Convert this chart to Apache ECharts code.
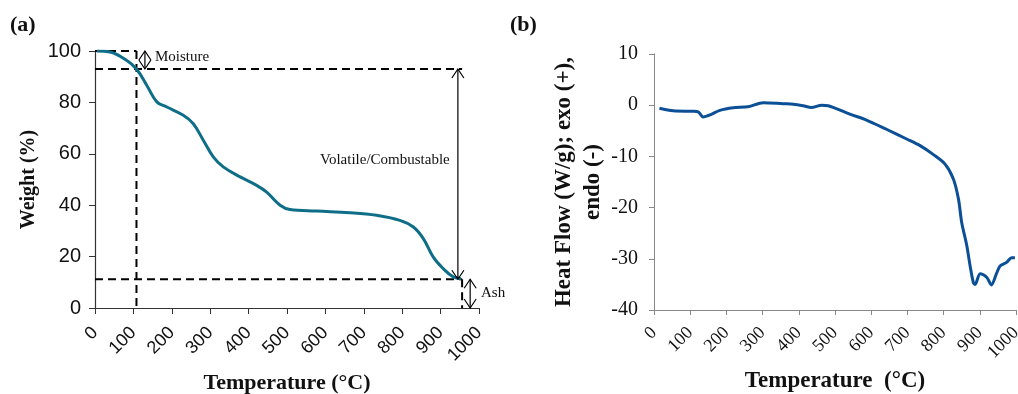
<!DOCTYPE html>
<html>
<head>
<meta charset="utf-8">
<script src="https://cdn.jsdelivr.net/npm/echarts@6/dist/echarts.min.js"></script>
<style>
  html, body { margin: 0; padding: 0; background: #fff; }
  #chart { width: 1018px; height: 394px; }
</style>
</head>
<body>
<div id="chart"></div>
<script>
// TGA (a) weight loss curve: [temperature, weight %]
var tgaData = [
  [5, 100], [39, 99.6], [82, 96.4], [108, 93], [135, 86.6], [161, 80.2], [187, 78.2],
  [230, 75], [256, 71.7], [282, 65.3], [308, 58.8], [334, 54.9], [378, 51], [421, 47.7],
  [447, 45.1], [482, 40], [508, 38.3], [577, 37.7], [664, 37.1], [733, 36.1], [794, 34.1],
  [829, 31.5], [855, 27], [881, 19.8], [907, 15.3], [933, 12.1], [953, 11.4]
];
// DSC (b) heat flow: [temperature, W/g]
var dscData = [
  [15, -0.6], [53, -1.1], [109, -1.2], [122, -1.3], [136, -2.3], [155, -1.9], [182, -1.0],
  [219, -0.5], [260, -0.3], [302, 0.5], [357, 0.3], [385, 0.2], [412, -0.1], [435, -0.45],
  [463, 0], [481, -0.1], [541, -1.75], [587, -2.9], [642, -4.7], [698, -6.6], [735, -7.9],
  [771, -9.6], [804, -11.5], [827, -14.4], [841, -18.3], [850, -22.9], [864, -27.4],
  [873, -31.3], [882, -34.6], [887, -35], [901, -32.9], [919, -33.6], [932, -35.1],
  [946, -32.9], [956, -31.4], [974, -30.7], [988, -29.8], [997, -29.8]
];
var moistureTemp = 108;
var moistureLevel = 93;
var ashLevel = 11.2;
var endTemp = 956;
// guide lines in (a)
var guideLines = [
  [[0, 100], [moistureTemp, 100]],
  [[0, moistureLevel], [endTemp, moistureLevel]],
  [[moistureTemp, 100], [moistureTemp, 0]],
  [[0, ashLevel], [endTemp, ashLevel]],
  [[endTemp, ashLevel], [endTemp, 0]]
];
// double arrows: [temperature, from, to]
var arrows = [
  [130, 100, moistureLevel],
  [945, moistureLevel, ashLevel],
  [977, ashLevel, 0]
];

var serif = '"Liberation Serif", "Times New Roman", serif';
var sans = '"Liberation Sans", Arial, sans-serif';

var chart = echarts.init(document.getElementById('chart'), null, { renderer: 'canvas' });

function guideSeries() {
  return guideLines.map(function (seg) {
    return {
      type: 'line', xAxisIndex: 0, yAxisIndex: 0, data: seg, symbol: 'none',
      lineStyle: { color: '#000', width: 2, type: [8, 5] }, silent: true, z: 3
    };
  });
}
function plain(v) { return String(v); }

chart.setOption({
  animation: false,
  backgroundColor: '#fff',
  grid: [
    { left: 95, right: 539, top: 51, bottom: 86, outerBoundsMode: 'none', containLabel: false },
    { left: 654, right: 2, top: 54, bottom: 84, outerBoundsMode: 'none', containLabel: false }
  ],
  xAxis: [
    {
      gridIndex: 0, type: 'value', min: 0, max: 1000, interval: 100,
      axisLine: { lineStyle: { color: '#333', width: 1.2 } },
      axisTick: { show: true, length: 6, lineStyle: { color: '#333' } },
      axisLabel: { rotate: 45, color: '#111', fontFamily: sans, fontSize: 18, margin: 22, formatter: plain },
      splitLine: { show: false },
      name: 'Temperature (°C)', nameLocation: 'middle', nameGap: 64,
      nameTextStyle: { fontFamily: serif, fontWeight: 'bold', fontSize: 22, color: '#111' }
    },
    {
      gridIndex: 1, type: 'value', min: 0, max: 1000, interval: 100,
      axisLine: { onZero: false, lineStyle: { color: '#888', width: 1 } },
      axisTick: { show: true, length: 5, lineStyle: { color: '#888' } },
      axisLabel: { rotate: 45, color: '#111', fontFamily: serif, fontSize: 18, margin: 20, formatter: plain },
      splitLine: { show: false },
      name: 'Temperature  (°C)', nameLocation: 'middle', nameGap: 60,
      nameTextStyle: { fontFamily: serif, fontWeight: 'bold', fontSize: 23, color: '#111' }
    }
  ],
  yAxis: [
    {
      gridIndex: 0, type: 'value', min: 0, max: 100, interval: 20,
      axisLine: { show: true, lineStyle: { color: '#333', width: 1.2 } },
      axisTick: { show: true, length: 6, lineStyle: { color: '#333' } },
      axisLabel: { color: '#111', fontFamily: sans, fontSize: 20, margin: 14 },
      splitLine: { show: false },
      name: 'Weight (%)', nameLocation: 'middle', nameGap: 56,
      nameTextStyle: { fontFamily: serif, fontWeight: 'bold', fontSize: 20, color: '#111' }
    },
    {
      gridIndex: 1, type: 'value', min: -40, max: 10, interval: 10,
      axisLine: { show: true, lineStyle: { color: '#888', width: 1 } },
      axisTick: { show: true, length: 5, lineStyle: { color: '#888' } },
      axisLabel: { color: '#111', fontFamily: serif, fontSize: 20, margin: 16 },
      splitLine: { show: false },
      name: 'Heat Flow (W/g); exo (+),\nendo (-)', nameLocation: 'middle', nameGap: 46,
      nameTextStyle: { fontFamily: serif, fontWeight: 'bold', fontSize: 23, color: '#111', lineHeight: 29 }
    }
  ],
  series: guideSeries().concat([
    {
      type: 'line', xAxisIndex: 0, yAxisIndex: 0, data: tgaData, smooth: 0.4,
      symbol: 'none', lineStyle: { color: '#0f6e87', width: 3 }, z: 5
    },
    {
      type: 'custom', xAxisIndex: 0, yAxisIndex: 0, data: arrows, z: 6, silent: true,
      renderItem: function (params, api) {
        var a = api.coord([api.value(0), api.value(1)]);
        var b = api.coord([api.value(0), api.value(2)]);
        var w = 6, h = 9;
        var st = { stroke: '#000', lineWidth: 1.2, fill: null };
        return {
          type: 'group',
          children: [
            { type: 'line', shape: { x1: a[0], y1: a[1], x2: b[0], y2: b[1] }, style: st },
            { type: 'polyline', shape: { points: [[a[0] - w, a[1] + h], [a[0], a[1]], [a[0] + w, a[1] + h]] }, style: st },
            { type: 'polyline', shape: { points: [[b[0] - w, b[1] - h], [b[0], b[1]], [b[0] + w, b[1] - h]] }, style: st }
          ]
        };
      }
    },
    {
      type: 'line', xAxisIndex: 1, yAxisIndex: 1, data: dscData, smooth: 0.3,
      symbol: 'none', lineStyle: { color: '#0b4f96', width: 3 }, z: 5
    }
  ]),
  graphic: [
    { type: 'text', left: 10, top: 14, style: { text: '(a)', font: 'bold 22px ' + serif, fill: '#111' } },
    { type: 'text', left: 510, top: 14, style: { text: '(b)', font: 'bold 22px ' + serif, fill: '#111' } },
    { type: 'text', left: 155, top: 50, style: { text: 'Moisture', font: '15px ' + serif, fill: '#111' } },
    { type: 'text', left: 320, top: 153, style: { text: 'Volatile/Combustable', font: '15px ' + serif, fill: '#111' } },
    { type: 'text', left: 481, top: 286, style: { text: 'Ash', font: '15px ' + serif, fill: '#111' } }
  ]
});
</script>
</body>
</html>
